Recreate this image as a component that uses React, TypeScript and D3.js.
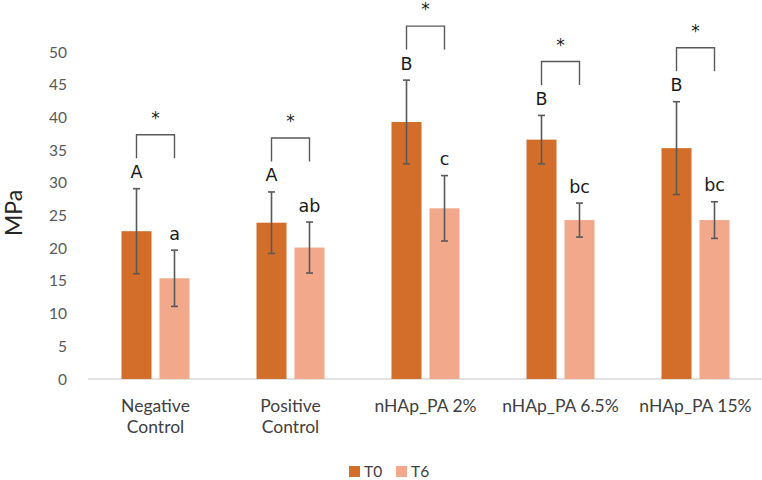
import React from "react";
import * as d3 from "d3";

const categories = ["Negative Control", "Positive Control", "nHAp_PA 2%", "nHAp_PA 6.5%", "nHAp_PA 15%"];
const series = ["T0", "T6"];
const t0Means = [22.6, 23.9, 39.3, 36.6, 35.3];
const t0Errors = [6.5, 4.7, 6.4, 3.7, 7.1];
const t6Means = [15.4, 20.1, 26.1, 24.3, 24.3];
const t6Errors = [4.3, 3.9, 5.0, 2.6, 2.8];
const t0Letters = ["A", "A", "B", "B", "B"];
const t6Letters = ["a", "ab", "c", "bc", "bc"];
const significance = ["*", "*", "*", "*", "*"];
const yTicks = [0, 5, 10, 15, 20, 25, 30, 35, 40, 45, 50];

const colors: Record<string, string> = { T0: "#d36e2a", T6: "#f1a88b" };
const width = 762;
const height = 480;

const App = () => {
  const x0 = d3.scaleBand().domain(categories).range([88, 763]).padding(0);
  const x1 = d3.scaleBand().domain(series).range([0, 68]).paddingInner(0.21).paddingOuter(0);
  const y = d3.scaleLinear().domain([0, 50]).range([379, 52]);

  const groupLeft = (c: string) => x0(c)! + x0.bandwidth() / 2 - 34;
  const cap = 3.5;
  const errColor = "#595959";

  const bars = categories.flatMap((c, i) =>
    series.map((s) => {
      const mean = s === "T0" ? t0Means[i] : t6Means[i];
      const err = s === "T0" ? t0Errors[i] : t6Errors[i];
      const letter = s === "T0" ? t0Letters[i] : t6Letters[i];
      const bx = groupLeft(c) + x1(s)!;
      return { c, s, mean, err, letter, bx, cx: bx + x1.bandwidth() / 2 };
    })
  );

  return (
    <svg width={width} height={height} style={{ position: "absolute", left: 0, top: 0, background: "#fff" }}>
      {/* y ticks */}
      {yTicks.map((t) => (
        <text key={t} x={67} y={y(t)} dy="0.36em" textAnchor="end" fontFamily="Lato" fontSize={15.5} fill="#595959">
          {t}
        </text>
      ))}
      <text transform={`translate(22,213) rotate(-90)`} textAnchor="middle" fontFamily="Lato" fontSize={23} fill="#262626">
        MPa
      </text>
      {/* baseline */}
      <line x1={88} x2={762} y1={y(0)} y2={y(0)} stroke="#d9d9d9" strokeWidth={1.3} />
      {/* bars */}
      {bars.map((b) => (
        <rect key={b.c + b.s} x={b.bx} y={y(b.mean)} width={x1.bandwidth()} height={y(0) - y(b.mean)} fill={colors[b.s]} />
      ))}
      {/* error bars */}
      {bars.map((b) => {
        const top = y(b.mean + b.err);
        const bot = y(b.mean - b.err);
        return (
          <g key={"e" + b.c + b.s} stroke={errColor} strokeWidth={1.6}>
            <line x1={b.cx} x2={b.cx} y1={top} y2={bot} />
            <line x1={b.cx - cap} x2={b.cx + cap} y1={top} y2={top} />
            <line x1={b.cx - cap} x2={b.cx + cap} y1={bot} y2={bot} />
          </g>
        );
      })}
      {/* letters */}
      {bars.map((b) => (
        <text key={"l" + b.c + b.s} x={b.cx} y={y(b.mean + b.err) - 10.5} textAnchor="middle" fontFamily="DejaVu Sans" fontSize={17.5} fill="#1a1a1a">
          {b.letter}
        </text>
      ))}
      {/* significance brackets */}
      {categories.map((c, i) => {
        const l = bars.find((b) => b.c === c && b.s === "T0")!;
        const r = bars.find((b) => b.c === c && b.s === "T6")!;
        const letterTop = y(l.mean + l.err) - 10.5 - 13;
        const bottom = letterTop - 7;
        const top = bottom - 23.5;
        return (
          <g key={"s" + c}>
            <path d={`M${l.cx},${bottom}V${top}H${r.cx}V${bottom}`} fill="none" stroke={errColor} strokeWidth={1.4} />
            <text x={(l.cx + r.cx) / 2} y={top - 21} dy="0.6em" textAnchor="middle" fontFamily="DejaVu Sans" fontSize={17} fill="#1a1a1a">
              {significance[i]}
            </text>
          </g>
        );
      })}
      {/* category labels */}
      {categories.map((c) => {
        const lines = c.startsWith("nHAp") ? [c] : c.split(" ");
        const cx = x0(c)! + x0.bandwidth() / 2;
        return (
          <text key={"c" + c} x={cx} y={411.5} textAnchor="middle" fontFamily="Lato" fontSize={17.5} fill="#404040">
            {lines.map((ln, k) => (
              <tspan key={k} x={cx} dy={k === 0 ? 0 : 21.5}>
                {ln}
              </tspan>
            ))}
          </text>
        );
      })}
      {/* legend */}
      {series.map((s, i) => {
        const lx = 349 + i * 47;
        return (
          <g key={"lg" + s}>
            <rect x={lx} y={466} width={11} height={11} fill={colors[s]} />
            <text x={lx + 15} y={476.5} fontFamily="Lato" fontSize={15.5} fill="#404040">
              {s}
            </text>
          </g>
        );
      })}
    </svg>
  );
};

export default App;
